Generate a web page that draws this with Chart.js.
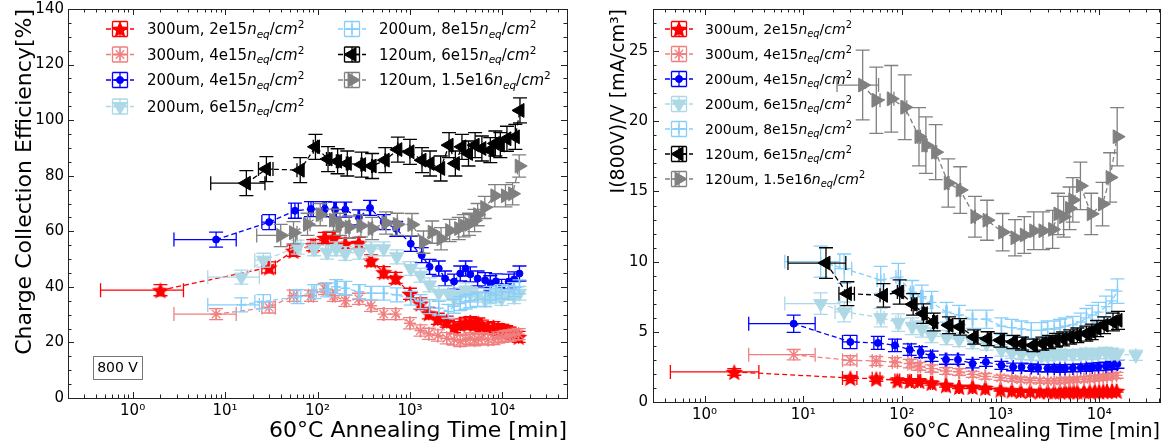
<!DOCTYPE html>
<html>
<head>
<meta charset="utf-8">
<script src="https://cdn.jsdelivr.net/npm/chart.js@4.4.1/dist/chart.umd.min.js"></script>
<style>
  body { margin: 0; background: #fff; }
  #wrap { position: relative; width: 1169px; height: 448px; }
  canvas { position: absolute; top: 0; }
  #cce { left: 0; }
  #cur { left: 580px; }
</style>
</head>
<body>
<div id="wrap">
  <canvas id="cce" width="580" height="448"></canvas>
  <canvas id="cur" width="589" height="448"></canvas>
</div>
<script>
// ---- data ----
const labels = ['300um, 2e15', '300um, 4e15', '200um, 4e15', '200um, 6e15', '200um, 8e15', '120um, 6e15', '120um, 1.5e16'];

// annealing times [min]
const tRed   = [2, 30, 55, 90, 120, 150, 200, 280, 380, 520, 700, 1000, 1300, 1600, 2000, 2500, 3000, 3500, 4000, 4500, 5000, 5500, 6000, 7000, 8000, 9000, 10000, 11000, 12000, 13500, 15000];
const tCoral = [8, 30, 55, 85, 120, 150, 200, 280, 380, 520, 700, 1000, 1300, 1600, 2000, 2500, 3000, 3500, 4000, 4500, 5000, 5500, 6000, 7000, 8000, 9000, 10000, 11000, 12000, 13500, 15000];
const tBlue  = [8, 30, 57, 85, 120, 155, 200, 280, 370, 520, 710, 1020, 1340, 1630, 2050, 2400, 3000, 3500, 4000, 4500, 5400, 6500, 7400, 8500, 9800, 11700, 13400, 15300];
const tLb    = [15, 26, 61, 92, 127, 159, 200, 283, 380, 520, 720, 1020, 1300, 1630, 2050, 2600, 3000, 3500, 4000, 4500, 5400, 6500, 7400, 8500, 9800, 11700, 13400, 15300, 23500];
const tSky   = [15, 26, 61, 92, 127, 159, 200, 283, 380, 520, 720, 1020, 1300, 1630, 2050, 2600, 3000, 3500, 4000, 4500, 5400, 6500, 7400, 8500, 9800, 11700, 13400, 15300];
const tBlack = [17, 28, 65, 95, 130, 165, 210, 300, 390, 540, 740, 1000, 1350, 1650, 2150, 2650, 3100, 3650, 4300, 5070, 6000, 7400, 8400, 9500, 11200, 13800, 15500];
const tGray  = [40, 55, 78, 107, 149, 175, 220, 295, 390, 550, 730, 1050, 1400, 1740, 2170, 2690, 3370, 3820, 4360, 5000, 5400, 6450, 8300, 10800, 12900, 15200];

// charge collection efficiency [%]
const cceRed   = [38.8, 47.0, 53.0, 55.0, 57.6, 57.8, 55.5, 55.8, 49.5, 45.3, 43.2, 37.5, 34.0, 30.5, 28.5, 27.5, 25.5, 26.5, 27.0, 27.3, 26.5, 26.8, 26.0, 25.0, 25.5, 24.8, 24.5, 24.0, 23.5, 23.0, 22.0];
const cceCoral = [30.2, 32.6, 36.8, 36.8, 39.2, 36.8, 35.0, 35.7, 33.2, 30.2, 30.2, 26.9, 24.3, 23.1, 22.5, 21.5, 21.0, 20.5, 21.0, 21.5, 20.8, 21.2, 21.5, 21.0, 21.2, 21.8, 22.0, 22.3, 22.5, 22.8, 23.0];
const cceBlue  = [57.0, 63.3, 67.4, 68.0, 68.0, 67.8, 67.8, 65.0, 68.4, 63.3, 60.9, 55.5, 51.4, 47.2, 46.6, 43.0, 41.9, 44.8, 46.6, 44.5, 43.0, 42.4, 41.3, 42.0, 40.0, 41.9, 42.7, 44.8];
const cceLb    = [43.5, 49.6, 54.3, 53.7, 52.5, 53.7, 52.0, 52.5, 53.7, 53.7, 50.8, 46.6, 44.2, 40.7, 37.7, 37.7, 35.9, 37.1, 38.9, 37.5, 37.0, 35.3, 36.5, 37.7, 35.8, 37.7, 36.5, 37.7, null];
const cceSky   = [33.5, 34.7, 36.5, 38.3, 38.9, 40.1, 39.5, 38.3, 37.7, 37.7, 37.1, 35.9, 34.7, 32.9, 32.3, 31.2, 33.0, 34.0, 34.5, 35.0, 35.5, 35.5, 37.7, 37.0, 38.3, 38.0, 39.0, 40.0];
const cceBlack = [77.3, 82.4, 82.0, 90.4, 86.0, 85.2, 84.4, 84.0, 83.5, 85.6, 89.4, 88.6, 85.6, 84.4, 82.6, 91.0, 84.4, 90.4, 88.0, 91.0, 89.8, 89.2, 91.6, 91.0, 93.3, 94.0, 103.5];
const cceGray  = [58.5, 59.5, 62.5, 66.0, 64.0, 62.5, 61.5, 62.0, 61.0, 63.0, 62.5, 62.4, 56.1, 59.7, 57.3, 60.3, 61.0, 62.0, 62.5, 63.9, 66.0, 68.6, 72.8, 72.8, 73.5, 83.5];

// I(800V)/V [mA/cm3]
const curRed   = [2.14, 1.71, 1.66, 1.54, 1.50, 1.50, 1.35, 1.19, 1.07, 1.07, 1.00, 0.88, 0.83, 0.78, 0.78, 0.75, 0.76, 0.74, 0.75, 0.78, 0.76, 0.74, 0.75, 0.77, 0.76, 0.78, 0.75, 0.77, 0.78, 0.80, 0.79];
const curCoral = [3.37, 2.97, 2.92, 2.85, 2.73, 2.54, 2.38, 2.21, 2.14, 1.97, 1.83, 1.73, 1.66, 1.59, 1.55, 1.52, 1.50, 1.50, 1.52, 1.55, 1.55, 1.58, 1.60, 1.62, 1.65, 1.70, 1.72, 1.75, 1.80, 1.85, 1.90];
const curBlue  = [5.58, 4.28, 4.21, 4.04, 3.73, 3.56, 3.26, 3.02, 3.02, 2.73, 2.85, 2.61, 2.50, 2.50, 2.45, 2.42, 2.40, 2.42, 2.38, 2.40, 2.42, 2.45, 2.45, 2.50, 2.52, 2.55, 2.60, 2.70];
const curLb    = [7.01, 6.42, 6.01, 5.66, 5.40, 5.20, 4.75, 4.59, 4.44, 4.28, 4.16, 3.68, 3.49, 3.40, 3.35, 3.30, 3.30, 3.35, 3.40, 3.38, 3.35, 3.40, 3.45, 3.40, 3.45, 3.50, 3.45, 3.40, 3.33];
const curSky   = [10.0, 9.5, 8.7, 8.9, 7.8, 7.5, 7.1, 6.4, 6.2, 5.9, 5.9, 5.4, 5.3, 5.2, 5.1, 5.1, 5.2, 5.2, 5.3, 5.4, 5.5, 5.7, 6.0, 6.2, 6.4, 6.8, 7.2, 7.9];
const curBlack = [9.90, 7.72, 7.60, 7.84, 6.96, 6.30, 5.70, 5.47, 5.35, 4.63, 4.51, 4.40, 4.28, 4.16, 4.04, 4.16, 4.28, 4.40, 4.50, 4.63, 4.75, 4.87, 5.00, 5.23, 5.47, 5.70, 5.82];
const curGray  = [22.58, 21.5, 21.6, 21.0, 18.9, 18.3, 17.8, 15.6, 15.1, 13.2, 12.95, 12.1, 11.7, 11.9, 12.2, 12.2, 12.3, 13.4, 13.2, 13.8, 14.4, 15.4, 13.4, 14.1, 16.0, 18.9];

// uncertainties
const cceErr = [2.0, 2.0, 2.7, 2.5, 2.5, 4.5, 4.0];
const curErrFrac = 0.11;
const xErrFirst = [1.55, 5.2, 5.2, 8.5, 8.5, 10.0, 18.0];
const xErrRest = 5;

const times = [tRed, tCoral, tBlue, tLb, tSky, tBlack, tGray];
const cceVals = [cceRed, cceCoral, cceBlue, cceLb, cceSky, cceBlack, cceGray];
const curVals = [curRed, curCoral, curBlue, curLb, curSky, curBlack, curGray];

// ---- styles ----
Chart.defaults.font.family = '"DejaVu Sans", sans-serif';
Chart.defaults.color = '#000';
const FONT = '"DejaVu Sans", sans-serif';
const colors = ['#ff0000', '#f08080', '#0000ff', '#add8e6', '#87cefa', '#000000', '#808080'];
const sup = ['\u2070', '\u00b9', '\u00b2', '\u00b3', '\u2074'];
const CAP = 7;

function starImage(r, color) {
  const c = document.createElement('canvas');
  c.width = c.height = 2 * r + 2;
  const g = c.getContext('2d');
  g.fillStyle = color;
  g.beginPath();
  for (let k = 0; k < 10; k++) {
    const a = -Math.PI / 2 + k * Math.PI / 5;
    const rr = k % 2 ? r * 0.45 : r;
    g.lineTo(r + 1 + rr * Math.cos(a), r + 1 + rr * Math.sin(a) + r * 0.1);
  }
  g.closePath();
  g.fill();
  return c;
}

const marks = [
  { style: starImage(9, colors[0]), r: 9, rot: 0, bw: 0 },
  { style: 'star', r: 6, rot: 0, bw: 1.3 },
  { style: 'circle', r: 3.5, rot: 0, bw: 1 },
  { style: 'triangle', r: 8, rot: 180, bw: 1 },
  { style: 'cross', r: 5, rot: 0, bw: 1.3 },
  { style: 'triangle', r: 8, rot: -90, bw: 1 },
  { style: 'triangle', r: 8, rot: 90, bw: 1 }
];

function buildSets(values, yErrFor) {
  return labels.map((lab, i) => ({
    label: lab,
    data: times[i].map((t, j) => ({ x: t, y: values[i][j] })),
    showLine: true,
    borderColor: colors[i],
    backgroundColor: colors[i],
    borderWidth: 1.3,
    borderDash: [5, 3],
    pointStyle: marks[i].style,
    pointRadius: marks[i].r,
    pointRotation: marks[i].rot,
    pointBackgroundColor: colors[i],
    pointBorderColor: colors[i],
    pointBorderWidth: marks[i].bw,
    order: labels.length - i,
    xErr: times[i].map((t, j) => j === 0 ? xErrFirst[i] : xErrRest),
    yErr: values[i].map(v => yErrFor(i, v))
  }));
}

// error bars, drawn just under each dataset's line and markers
const errorBars = {
  id: 'errorBars',
  beforeDatasetDraw(chart, args) {
    const ds = chart.data.datasets[args.index];
    const xs = chart.scales.x, ys = chart.scales.y;
    const ctx = chart.ctx;
    ctx.save();
    ctx.strokeStyle = ds.borderColor;
    ctx.lineWidth = 1.3;
    ctx.setLineDash([]);
    ctx.beginPath();
    ds.data.forEach((p, j) => {
      if (p.y == null) return;
      const x = xs.getPixelForValue(p.x), y = ys.getPixelForValue(p.y);
      const y0 = ys.getPixelForValue(p.y - ds.yErr[j]), y1 = ys.getPixelForValue(p.y + ds.yErr[j]);
      const x0 = xs.getPixelForValue(p.x - ds.xErr[j]), x1 = xs.getPixelForValue(p.x + ds.xErr[j]);
      ctx.moveTo(x, y0); ctx.lineTo(x, y1);
      ctx.moveTo(x - CAP, y0); ctx.lineTo(x + CAP, y0);
      ctx.moveTo(x - CAP, y1); ctx.lineTo(x + CAP, y1);
      ctx.moveTo(x0, y); ctx.lineTo(x1, y);
      ctx.moveTo(x0, y - CAP); ctx.lineTo(x0, y + CAP);
      ctx.moveTo(x1, y - CAP); ctx.lineTo(x1, y + CAP);
    });
    ctx.stroke();
    ctx.restore();
  }
};

// frame with inward major and minor ticks on all four sides
const frame = {
  id: 'frame',
  afterDraw(chart, args, opts) {
    const { ctx, chartArea: a, scales: { x, y } } = chart;
    ctx.save();
    ctx.strokeStyle = '#222';
    ctx.lineWidth = 1;
    ctx.setLineDash([]);
    ctx.strokeRect(Math.round(a.left) + 0.5, Math.round(a.top) + 0.5, Math.round(a.right - a.left), Math.round(a.bottom - a.top));
    ctx.beginPath();
    for (let e = -1; e <= 5; e++) {
      for (let m = 1; m <= 9; m++) {
        const v = m * Math.pow(10, e);
        if (v <= x.min || v >= x.max) continue;
        const px = Math.round(x.getPixelForValue(v)) + 0.5;
        const len = m === 1 ? 6 : 3.5;
        ctx.moveTo(px, a.bottom); ctx.lineTo(px, a.bottom - len);
        ctx.moveTo(px, a.top); ctx.lineTo(px, a.top + len);
      }
    }
    for (let v = 0; v <= y.max + 1e-9; v += opts.minor) {
      const py = Math.round(y.getPixelForValue(v)) + 0.5;
      const major = Math.abs(v / opts.major - Math.round(v / opts.major)) < 1e-6;
      const len = major ? 6 : 3.5;
      ctx.moveTo(a.left, py); ctx.lineTo(a.left + len, py);
      ctx.moveTo(a.right, py); ctx.lineTo(a.right - len, py);
    }
    ctx.stroke();
    ctx.restore();
  }
};

function richLabel(ctx, x, y, text, size) {
  const segs = [
    [text, 'normal', 0, 1],
    ['n', 'italic', 0, 1],
    ['eq', 'italic', 0.22, 0.7],
    ['/', 'normal', 0, 1],
    ['cm', 'italic', 0, 1],
    ['2', 'normal', -0.42, 0.7]
  ];
  ctx.textAlign = 'left';
  ctx.textBaseline = 'alphabetic';
  for (const [t, st, dy, sc] of segs) {
    ctx.font = st + ' ' + (size * sc) + 'px ' + FONT;
    ctx.fillText(t, x, y + dy * size);
    x += ctx.measureText(t).width;
  }
}

// legend with errorbar-style handles and mathtext-like labels
const richLegend = {
  id: 'richLegend',
  afterDraw(chart, args, opts) {
    const ctx = chart.ctx;
    opts.entries.forEach(en => {
      const i = en.i, cx = en.hx, cy = en.y;
      ctx.save();
      ctx.strokeStyle = colors[i];
      ctx.fillStyle = colors[i];
      ctx.lineWidth = 1.3;
      ctx.setLineDash([5, 3]);
      ctx.beginPath();
      ctx.moveTo(cx - 14, cy); ctx.lineTo(cx + 14, cy);
      ctx.stroke();
      ctx.setLineDash([]);
      ctx.beginPath();
      const b = 7.5;
      ctx.moveTo(cx - b, cy); ctx.lineTo(cx + b, cy);
      ctx.moveTo(cx, cy - b); ctx.lineTo(cx, cy + b);
      ctx.moveTo(cx - b, cy - b); ctx.lineTo(cx + b, cy - b);
      ctx.moveTo(cx - b, cy + b); ctx.lineTo(cx + b, cy + b);
      ctx.moveTo(cx - b, cy - b); ctx.lineTo(cx - b, cy + b);
      ctx.moveTo(cx + b, cy - b); ctx.lineTo(cx + b, cy + b);
      ctx.stroke();
      ctx.lineWidth = marks[i].bw;
      Chart.helpers.drawPoint(ctx, {
        pointStyle: marks[i].style, radius: marks[i].r, rotation: marks[i].rot, borderWidth: marks[i].bw
      }, cx, cy);
      ctx.fillStyle = '#000';
      richLabel(ctx, en.tx, cy + opts.size * 0.36, labels[i], opts.size);
      ctx.restore();
    });
    if (opts.note) {
      const n = opts.note;
      ctx.save();
      ctx.strokeStyle = '#777';
      ctx.lineWidth = 1;
      ctx.strokeRect(n.x + 0.5, n.y + 0.5, n.w, n.h);
      ctx.fillStyle = '#000';
      ctx.font = '14px ' + FONT;
      ctx.textAlign = 'center';
      ctx.textBaseline = 'middle';
      ctx.fillText(n.text, n.x + n.w / 2, n.y + n.h / 2 + 1);
      ctx.restore();
    }
  }
};

function makePanel(id, values, yErrFor, cfg) {
  return new Chart(document.getElementById(id), {
    type: 'scatter',
    data: { datasets: buildSets(values, yErrFor) },
    plugins: [errorBars, frame, richLegend],
    options: {
      responsive: false,
      animation: false,
      events: [],
      layout: { padding: { left: 0, right: cfg.padRight, top: cfg.padTop, bottom: 0 } },
      plugins: {
        legend: { display: false },
        tooltip: { enabled: false },
        frame: { minor: cfg.yMinor, major: cfg.yStep },
        richLegend: { entries: cfg.legend, size: cfg.legendSize, note: cfg.note }
      },
      scales: {
        x: {
          type: 'logarithmic',
          min: cfg.xMin,
          max: cfg.xMax,
          grid: { display: false, drawTicks: false },
          border: { display: false },
          afterBuildTicks: s => { s.ticks = [1, 10, 100, 1000, 10000].map(v => ({ value: v })); },
          afterFit: s => { s.height = cfg.xHeight; s.paddingLeft = 0; s.paddingRight = 0; },
          ticks: {
            autoSkip: false, maxRotation: 0, padding: 4,
            font: { size: 15 },
            callback: v => '10' + sup[Math.round(Math.log10(v))]
          },
          title: {
            display: true, text: '60\u00b0C Annealing Time [min]', align: 'end',
            font: { size: cfg.xTitleSize }, padding: { top: 0, bottom: cfg.xTitlePad }
          }
        },
        y: {
          min: 0,
          max: cfg.yMax,
          grid: { display: false, drawTicks: false },
          border: { display: false },
          afterBuildTicks: s => {
            const t = [];
            for (let v = 0; v <= cfg.yMax + 1e-9; v += cfg.yStep) t.push({ value: v });
            s.ticks = t;
          },
          afterFit: s => { s.width = cfg.yWidth; s.paddingTop = 0; s.paddingBottom = 0; },
          ticks: { padding: cfg.yTickPad, font: { size: 15 } },
          title: {
            display: true, text: cfg.yTitle, align: 'end',
            font: { size: cfg.yTitleSize }, padding: { top: cfg.yTitlePad, bottom: 0 }
          }
        }
      }
    }
  });
}

const rowsL = [29, 54.5, 80, 106.5];
makePanel('cce', cceVals, i => cceErr[i], {
  padRight: 13, padTop: 7, xHeight: 50, yWidth: 68,
  xMin: 0.2, xMax: 50000, yMax: 140, yStep: 20, yMinor: 5,
  yTickPad: 4, xTitleSize: 22, xTitlePad: 4, yTitleSize: 22, yTitlePad: 12,
  yTitle: 'Charge Collection Efficiency[%]',
  legendSize: 15,
  legend: [
    { i: 0, hx: 120, tx: 147, y: rowsL[0] },
    { i: 1, hx: 120, tx: 147, y: rowsL[1] },
    { i: 2, hx: 120, tx: 147, y: rowsL[2] },
    { i: 3, hx: 120, tx: 147, y: rowsL[3] },
    { i: 4, hx: 352, tx: 379, y: rowsL[0] },
    { i: 5, hx: 352, tx: 379, y: rowsL[1] },
    { i: 6, hx: 352, tx: 379, y: rowsL[2] }
  ],
  note: { x: 93, y: 356, w: 49, h: 23, text: '800 V' }
});

makePanel('cur', curVals, (i, v) => v == null ? 0 : v * curErrFrac, {
  padRight: 8, padTop: 9, xHeight: 46, yWidth: 73,
  xMin: 0.305, xMax: 41300, yMax: 28, yStep: 5, yMinor: 1,
  yTickPad: 5, xTitleSize: 19, xTitlePad: 5, yTitleSize: 19, yTitlePad: 28,
  yTitle: 'I(800V)/V [mA/cm\u00b3]',
  legendSize: 14,
  legend: labels.map((l, i) => ({ i: i, hx: 99, tx: 125, y: 29 + 25 * i }))
});
</script>
</body>
</html>
